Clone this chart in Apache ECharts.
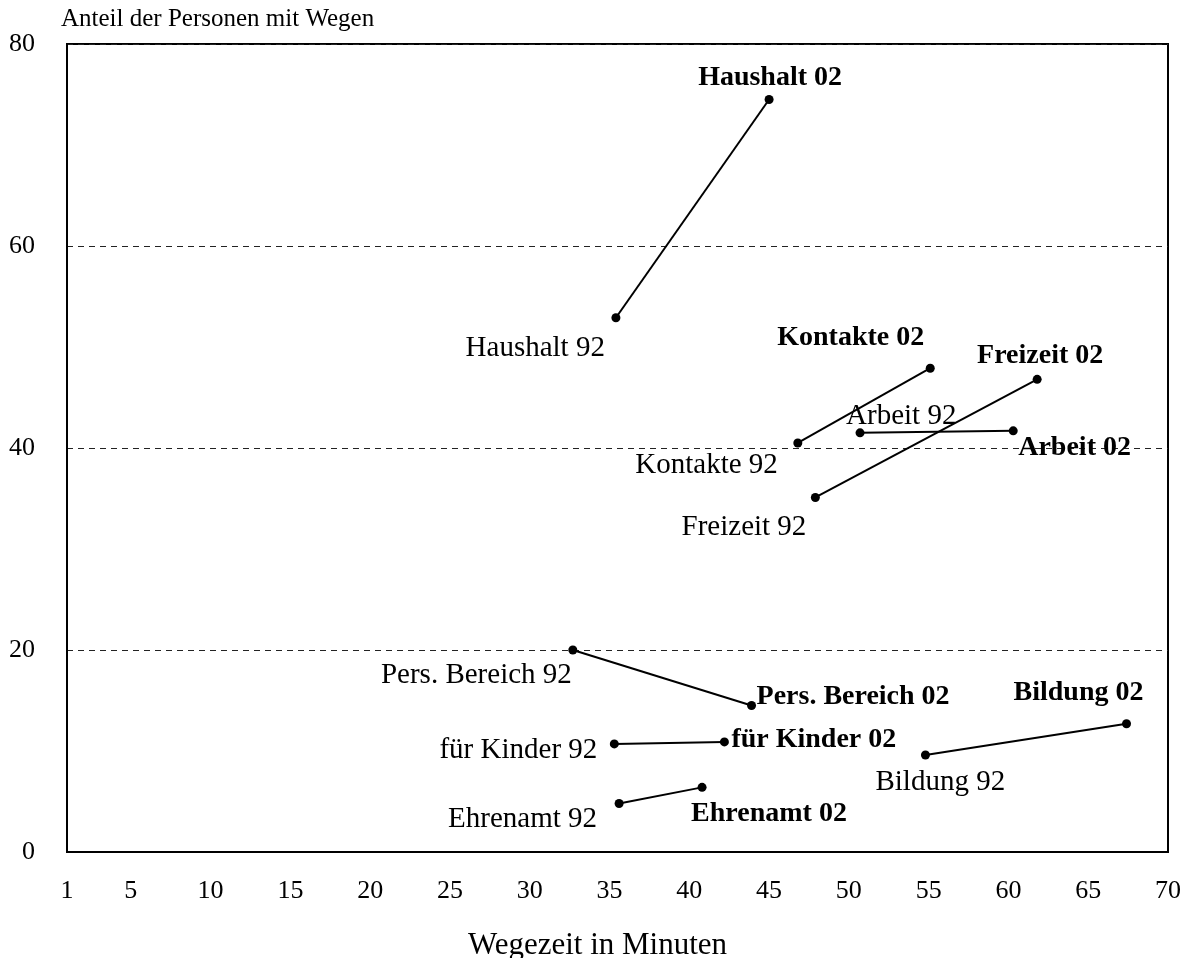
<!DOCTYPE html>
<html>
<head>
<meta charset="utf-8">
<title>Wegezeit und Anteil der Personen mit Wegen</title>
<script src="https://cdn.jsdelivr.net/npm/echarts@6/dist/echarts.min.js"></script>
<style>
  html, body { margin: 0; padding: 0; background: #fff; }
  #chart { width: 1198px; height: 958px; }
</style>
</head>
<body>
<div id="chart"></div>
<script>
// Wegezweck, Wegezeit (Minuten) und Anteil (%) für 1992 und 2002
const categories = ['Haushalt', 'Kontakte', 'Freizeit', 'Arbeit', 'Pers. Bereich', 'für Kinder', 'Bildung', 'Ehrenamt'];
const minutes92 = [35.4, 46.8, 47.9, 50.7, 32.7, 35.3, 54.8, 35.6];
const share92 = [52.9, 40.5, 35.1, 41.5, 20.0, 10.7, 9.6, 4.8];
const minutes02 = [45.0, 55.1, 61.8, 60.3, 43.9, 42.2, 67.4, 40.8];
const share02 = [74.5, 47.9, 46.8, 41.7, 14.5, 10.9, 12.7, 6.4];
const xTicks = [1, 5, 10, 15, 20, 25, 30, 35, 40, 45, 50, 55, 60, 65, 70];
const yTicks = [0, 20, 40, 60, 80];

// label placement next to each point: [align, dx, dy] for 92 and 02
const labelPlace = {
  'Haushalt': [['right', -11, 31], ['center', 1, -22]],
  'Kontakte': [['right', -20, 22], ['right', -6, -30]],
  'Freizeit': [['right', -9, 30], ['center', 3, -24]],
  'Arbeit': [['left', -14, -16], ['left', 5, 17]],
  'Pers. Bereich': [['right', -1, 25], ['left', 5, -9]],
  'für Kinder': [['right', -17, 6], ['left', 7, -2]],
  'Bildung': [['left', -50, 27], ['right', 17, -31]],
  'Ehrenamt': [['right', -22, 16], ['left', -11, 26]]
};

const FONT = 'Liberation Serif';

function pointLabel(text, place, bold) {
  return {
    show: true,
    position: 'inside',
    formatter: text,
    align: place[0],
    verticalAlign: 'middle',
    offset: [place[1], place[2]],
    color: '#000',
    textBorderWidth: 0,
    textBorderColor: 'transparent',
    fontFamily: FONT,
    fontSize: bold ? 28 : 29,
    fontWeight: bold ? 'bold' : 'normal'
  };
}

const series = categories.map((name, i) => {
  const place = labelPlace[name];
  return {
    name: name,
    type: 'line',
    symbol: 'circle',
    symbolSize: 9,
    silent: true,
    animation: false,
    lineStyle: { color: '#000', width: 2 },
    itemStyle: { color: '#000' },
    data: [
      { value: [minutes92[i], share92[i]], label: pointLabel(name + ' 92', place[0], false) },
      { value: [minutes02[i], share02[i]], label: pointLabel(name + ' 02', place[1], true) }
    ]
  };
});

const chart = echarts.init(document.getElementById('chart'));

const option = {
  animation: false,
  backgroundColor: '#fff',
  grid: {
    left: 67,
    right: 30,
    top: 44,
    bottom: 106,
    outerBoundsMode: 'none',
    show: true,
    borderColor: '#000',
    borderWidth: 2
  },
  xAxis: {
    type: 'value',
    min: 1,
    max: 70,
    name: 'Wegezeit in Minuten',
    nameLocation: 'middle',
    nameGap: 78,
    nameTextStyle: { color: '#000', fontFamily: FONT, fontSize: 31, padding: [0, 40, 0, 0] },
    axisLine: { show: true, lineStyle: { color: '#000', width: 2 } },
    axisTick: { show: false },
    splitLine: { show: false },
    axisLabel: {
      customValues: xTicks,
      color: '#000',
      fontFamily: FONT,
      fontSize: 26,
      margin: 26
    }
  },
  yAxis: {
    type: 'value',
    min: 0,
    max: 80,
    interval: 20,
    name: 'Anteil der Personen mit Wegen',
    nameLocation: 'end',
    nameGap: 12,
    nameTextStyle: { color: '#000', fontFamily: FONT, fontSize: 25, align: 'left', padding: [0, 0, 0, -6] },
    axisLine: { show: true, lineStyle: { color: '#000', width: 2 } },
    axisTick: { show: false },
    splitLine: { show: true, lineStyle: { color: '#222', width: 1, type: [6, 5] } },
    axisLabel: {
      customValues: yTicks,
      color: '#000',
      fontFamily: FONT,
      fontSize: 26,
      margin: 32
    }
  },
  series: series
};

chart.setOption(option);
</script>
</body>
</html>
